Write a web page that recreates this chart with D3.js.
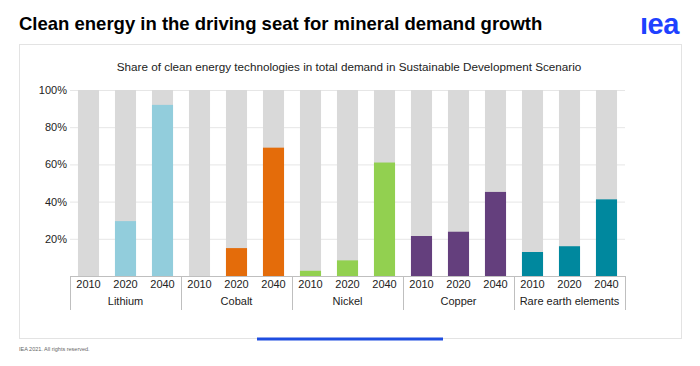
<!DOCTYPE html>
<html><head><meta charset="utf-8">
<script src="https://cdn.jsdelivr.net/npm/d3@7"></script>
<style>body{margin:0;background:#fff;}svg{display:block;font-family:Arial,"Liberation Sans",sans-serif;}</style>
</head><body>
<svg id="c" width="700" height="366"></svg>
<script>
const minerals = ["Lithium","Cobalt","Nickel","Copper","Rare earth elements"];
const years = ["2010","2020","2040"];
const lithium = [0, 29.5, 92];
const cobalt = [0, 15, 69];
const nickel = [2.8, 8.4, 61];
const copper = [21.5, 23.8, 45.2];
const rareEarth = [12.9, 16, 41.2];
const colors = ["#92CDDC","#E46C0A","#92D050","#643F7D","#00889E"];
const yTicks = [20,40,60,80,100];

const seriesValues = [lithium, cobalt, nickel, copper, rareEarth];
const rows = [];
minerals.forEach((m,i)=>years.forEach((y,j)=>rows.push({key:m+"|"+y, mineral:m, year:y, value:seriesValues[i][j], color:colors[i]})));

const svg = d3.select("#c");
// frame
svg.append("rect").attr("x",19.5).attr("y",44.5).attr("width",662).attr("height",294).attr("fill","none").attr("stroke","#e3e3e3");
svg.append("text").attr("x",19).attr("y",30).attr("font-size",18.5).attr("font-weight","bold").attr("fill","#000").text("Clean energy in the driving seat for mineral demand growth");
svg.append("text").attr("x",640).attr("y",34).attr("font-size",29).attr("font-weight","bold").attr("fill","#1E41FF").attr("letter-spacing",-0.5).text("\u0131ea");
svg.append("text").attr("x",349).attr("y",71).attr("text-anchor","middle").attr("font-size",11.7).attr("fill","#222").text("Share of clean energy technologies in total demand in Sustainable Development Scenario");
svg.append("rect").attr("x",257).attr("y",337.5).attr("width",186).attr("height",3).attr("fill","#1E4DE0");
svg.append("text").attr("x",19).attr("y",351).attr("font-size",5.5).attr("fill","#666").text("IEA 2021. All rights reserved.");

const x = d3.scaleBand().domain(rows.map(d=>d.key)).range([70,625]).paddingInner(0.43).paddingOuter(0.215);
const y = d3.scaleLinear().domain([0,100]).range([276,90]);

const g = svg.append("g");
// gridlines
g.selectAll("line.grid").data(yTicks).join("line").attr("class","grid")
  .attr("x1",70).attr("x2",625).attr("y1",d=>y(d)+0.5).attr("y2",d=>y(d)+0.5).attr("stroke","#e6e6e6");
// background bars
g.selectAll("rect.bg").data(rows).join("rect").attr("class","bg")
  .attr("x",d=>x(d.key)).attr("width",x.bandwidth()).attr("y",y(100)).attr("height",y(0)-y(100)).attr("fill","#D9D9D9");
g.selectAll("rect.val").data(rows).join("rect").attr("class","val")
  .attr("x",d=>x(d.key)).attr("width",x.bandwidth()).attr("y",d=>y(d.value)).attr("height",d=>y(0)-y(d.value)).attr("fill",d=>d.color);

// y axis
const yAxis = d3.axisLeft(y).tickValues(yTicks).tickFormat(d=>d+"%").tickSize(0).tickPadding(3);
const ya = svg.append("g").attr("transform","translate(70,0)").call(yAxis);
ya.select(".domain").remove();
ya.selectAll("text").attr("font-size",11).attr("fill","#222").attr("font-family","Arial, 'Liberation Sans', sans-serif");

// baseline
svg.append("line").attr("x1",70).attr("x2",625).attr("y1",276.5).attr("y2",276.5).attr("stroke","#bfbfbf");
// x axis year labels
const xAxis = d3.axisBottom(x).tickFormat(k=>k.split("|")[1]).tickSize(0).tickPadding(4);
const xa = svg.append("g").attr("transform","translate(0,276)").call(xAxis);
xa.select(".domain").remove();
xa.selectAll("text").attr("font-size",11).attr("fill","#222").attr("font-family","Arial, 'Liberation Sans', sans-serif");
// group separators and labels
const groupW = (625-70)/minerals.length;
const gx = d3.scaleBand().domain(minerals).range([70,625]);
svg.selectAll("line.sep").data(d3.range(minerals.length+1)).join("line").attr("class","sep")
  .attr("x1",i=>Math.round(70+i*groupW)+0.5).attr("x2",i=>Math.round(70+i*groupW)+0.5)
  .attr("y1",276).attr("y2",310).attr("stroke","#bfbfbf");
svg.selectAll("text.grp").data(minerals).join("text").attr("class","grp")
  .attr("x",d=>gx(d)+gx.bandwidth()/2).attr("y",305).attr("text-anchor","middle")
  .attr("font-size",11).attr("fill","#222").text(d=>d);
</script>
</body></html>
